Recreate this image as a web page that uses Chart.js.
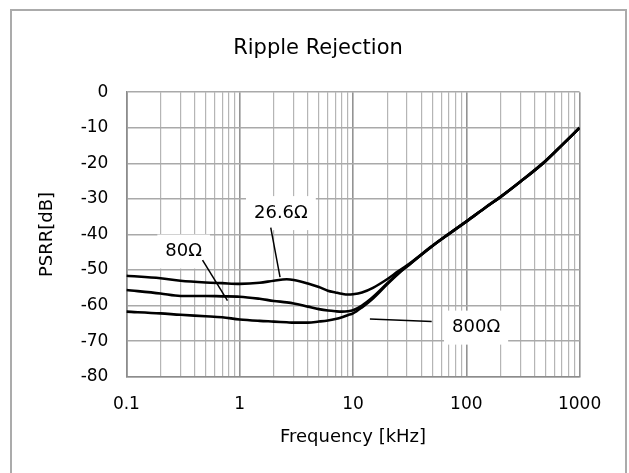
<!DOCTYPE html>
<html lang="en">
<head>
    <meta charset="UTF-8">
    <title>Ripple Rejection</title>
    <script src="https://cdn.jsdelivr.net/npm/chart.js"></script>
    <style>
        body { margin: 0; background: #fff; }
        #frame { position: absolute; left: 10px; top: 9px; width: 613px; height: 500px; border: 2px solid #ababab; }
        #wrap { position: absolute; left: 0; top: 0; width: 629px; height: 473px; }
    </style>
</head>
<body>
    <div id="frame"></div>
    <div id="wrap"><canvas id="psrrChart"></canvas></div>

    <script>
        // frequency points [kHz]
        const freq = [0.1, 0.2, 0.3, 0.5, 0.7, 1, 1.5, 2, 2.6, 3, 4, 5, 6, 7, 8, 9, 10, 12, 15, 20, 25, 30, 50, 70, 100, 150, 200, 300, 500, 700, 1000];

        // PSRR [dB]
        const psrr26 = [-51.6, -52.3, -53.0, -53.5, -53.7, -53.9, -53.6, -53.0, -52.6, -52.8, -53.8, -54.8, -55.8, -56.3, -56.7, -56.9, -56.8, -56.3, -55.0, -52.6, -50.4, -48.7, -43.2, -39.8, -36.3, -32.2, -29.4, -25.1, -19.3, -14.8, -10.0];
        const psrr80 = [-55.6, -56.6, -57.3, -57.3, -57.4, -57.5, -58.1, -58.7, -59.1, -59.4, -60.3, -61.0, -61.4, -61.6, -61.7, -61.6, -61.3, -60.0, -57.6, -53.8, -50.9, -48.9, -43.3, -39.9, -36.4, -32.3, -29.5, -25.2, -19.4, -14.9, -10.0];
        const psrr800 = [-61.7, -62.2, -62.6, -63.0, -63.3, -63.9, -64.3, -64.5, -64.7, -64.8, -64.8, -64.5, -64.2, -63.8, -63.3, -62.7, -62.2, -60.5, -58.0, -54.0, -51.1, -49.0, -43.3, -39.9, -36.4, -32.3, -29.5, -25.2, -19.4, -14.9, -10.0];

        const seriesNames = ['26.6Ω', '80Ω', '800Ω'];

        // axis ticks
        const xTickVals = [0.1, 1, 10, 100, 1000];
        const xTickText = ['0.1', '1', '10', '100', '1000'];
        const yMin = -80, yMax = 0, yStep = 10;

        // callouts: label centre and leader line, in data units
        const callouts = [
            { text: '26.6Ω', at: [2.31, -34.0], from: [1.88, -38.1], to: [2.27, -52.0] },
            { text: '80Ω', at: [0.32, -44.8], from: [0.47, -47.2], to: [0.78, -58.6] },
            { text: '800Ω', at: [122, -66.2], from: [14.1, -63.8], to: [49.5, -64.5] }
        ];

        const FONT = "'DejaVu Sans', sans-serif";

        const isDecade = v => xTickVals.some(d => Math.abs(v - d) < d * 1e-6);

        const calloutPlugin = {
            id: 'callouts',
            beforeDatasetsDraw(chart) {
                const { ctx, scales: { x, y } } = chart;
                ctx.save();
                ctx.font = '18px ' + FONT;
                callouts.forEach(c => {
                    const cx = x.getPixelForValue(c.at[0]);
                    const cy = y.getPixelForValue(c.at[1]);
                    const w = ctx.measureText(c.text).width + 16;
                    const h = 34;
                    ctx.fillStyle = '#fff';
                    ctx.fillRect(cx - w / 2, cy - h / 2, w, h);

                    ctx.strokeStyle = '#000';
                    ctx.lineWidth = 1.5;
                    ctx.beginPath();
                    ctx.moveTo(x.getPixelForValue(c.from[0]), y.getPixelForValue(c.from[1]));
                    ctx.lineTo(x.getPixelForValue(c.to[0]), y.getPixelForValue(c.to[1]));
                    ctx.stroke();

                    ctx.fillStyle = '#000';
                    ctx.textAlign = 'center';
                    ctx.textBaseline = 'middle';
                    ctx.fillText(c.text, cx, cy);
                });
                ctx.restore();
            }
        };

        const makeSet = (label, data) => ({
            label: label,
            data: freq.map((f, i) => ({ x: f, y: data[i] })),
            borderColor: '#000',
            borderWidth: 2.6,
            pointRadius: 0,
            fill: false,
            cubicInterpolationMode: 'monotone'
        });

        new Chart(document.getElementById('psrrChart'), {
            type: 'line',
            data: {
                datasets: [
                    makeSet(seriesNames[0], psrr26),
                    makeSet(seriesNames[1], psrr80),
                    makeSet(seriesNames[2], psrr800)
                ]
            },
            options: {
                responsive: true,
                maintainAspectRatio: false,
                animation: false,
                layout: { padding: { left: 7, right: 0, top: 0, bottom: 0 } },
                plugins: {
                    legend: { display: false },
                    tooltip: { enabled: false },
                    title: {
                        display: true,
                        text: 'Ripple Rejection',
                        color: '#000',
                        font: { family: FONT, size: 21, weight: 'normal' },
                        padding: { top: 36, bottom: 31 }
                    }
                },
                scales: {
                    x: {
                        type: 'logarithmic',
                        min: 0.1,
                        max: 1000,
                        afterBuildTicks: scale => {
                            const vals = [];
                            xTickVals.forEach((d, i) => {
                                if (i === xTickVals.length - 1) { vals.push(d); return; }
                                for (let k = 1; k <= 9; k++) vals.push(d * k);
                            });
                            scale.ticks = vals.map(v => ({ value: v }));
                        },
                        afterFit: scale => { scale.height = 96.3; },
                        ticks: {
                            autoSkip: false,
                            maxRotation: 0,
                            padding: 18,
                            color: '#000',
                            font: { family: FONT, size: 17 },
                            callback: value => {
                                const i = xTickVals.findIndex(d => Math.abs(value - d) < d * 1e-6);
                                return i >= 0 ? xTickText[i] : '';
                            }
                        },
                        grid: {
                            drawTicks: false,
                            color: c => (c.tick && isDecade(c.tick.value)) ? '#939393' : '#b5b5b5',
                            lineWidth: c => (c.tick && isDecade(c.tick.value)) ? 1.6 : 1.2
                        },
                        border: { color: '#8c8c8c', width: 1.6 },
                        title: {
                            display: true,
                            text: 'Frequency [kHz]',
                            color: '#000',
                            font: { family: FONT, size: 18 },
                            padding: { top: 0, bottom: 25 }
                        }
                    },
                    y: {
                        min: yMin,
                        max: yMax,
                        afterFit: scale => { scale.width = 119.4; },
                        ticks: {
                            stepSize: yStep,
                            padding: 18,
                            color: '#000',
                            font: { family: FONT, size: 17 }
                        },
                        grid: { drawTicks: false, color: '#a9a9a9', lineWidth: 1.6 },
                        border: { color: '#8c8c8c', width: 1.6 },
                        title: {
                            display: true,
                            text: 'PSRR[dB]',
                            color: '#000',
                            font: { family: FONT, size: 18 },
                            padding: { top: 29.7, bottom: 0 }
                        }
                    },
                    // empty right-hand spacer so the plot ends where the reference does
                    yRight: {
                        position: 'right',
                        min: yMin,
                        max: yMax,
                        afterFit: scale => { scale.width = 49.4; },
                        ticks: { display: false },
                        grid: { display: false, drawOnChartArea: false },
                        border: { display: false }
                    }
                }
            },
            plugins: [calloutPlugin]
        });
    </script>
</body>
</html>
